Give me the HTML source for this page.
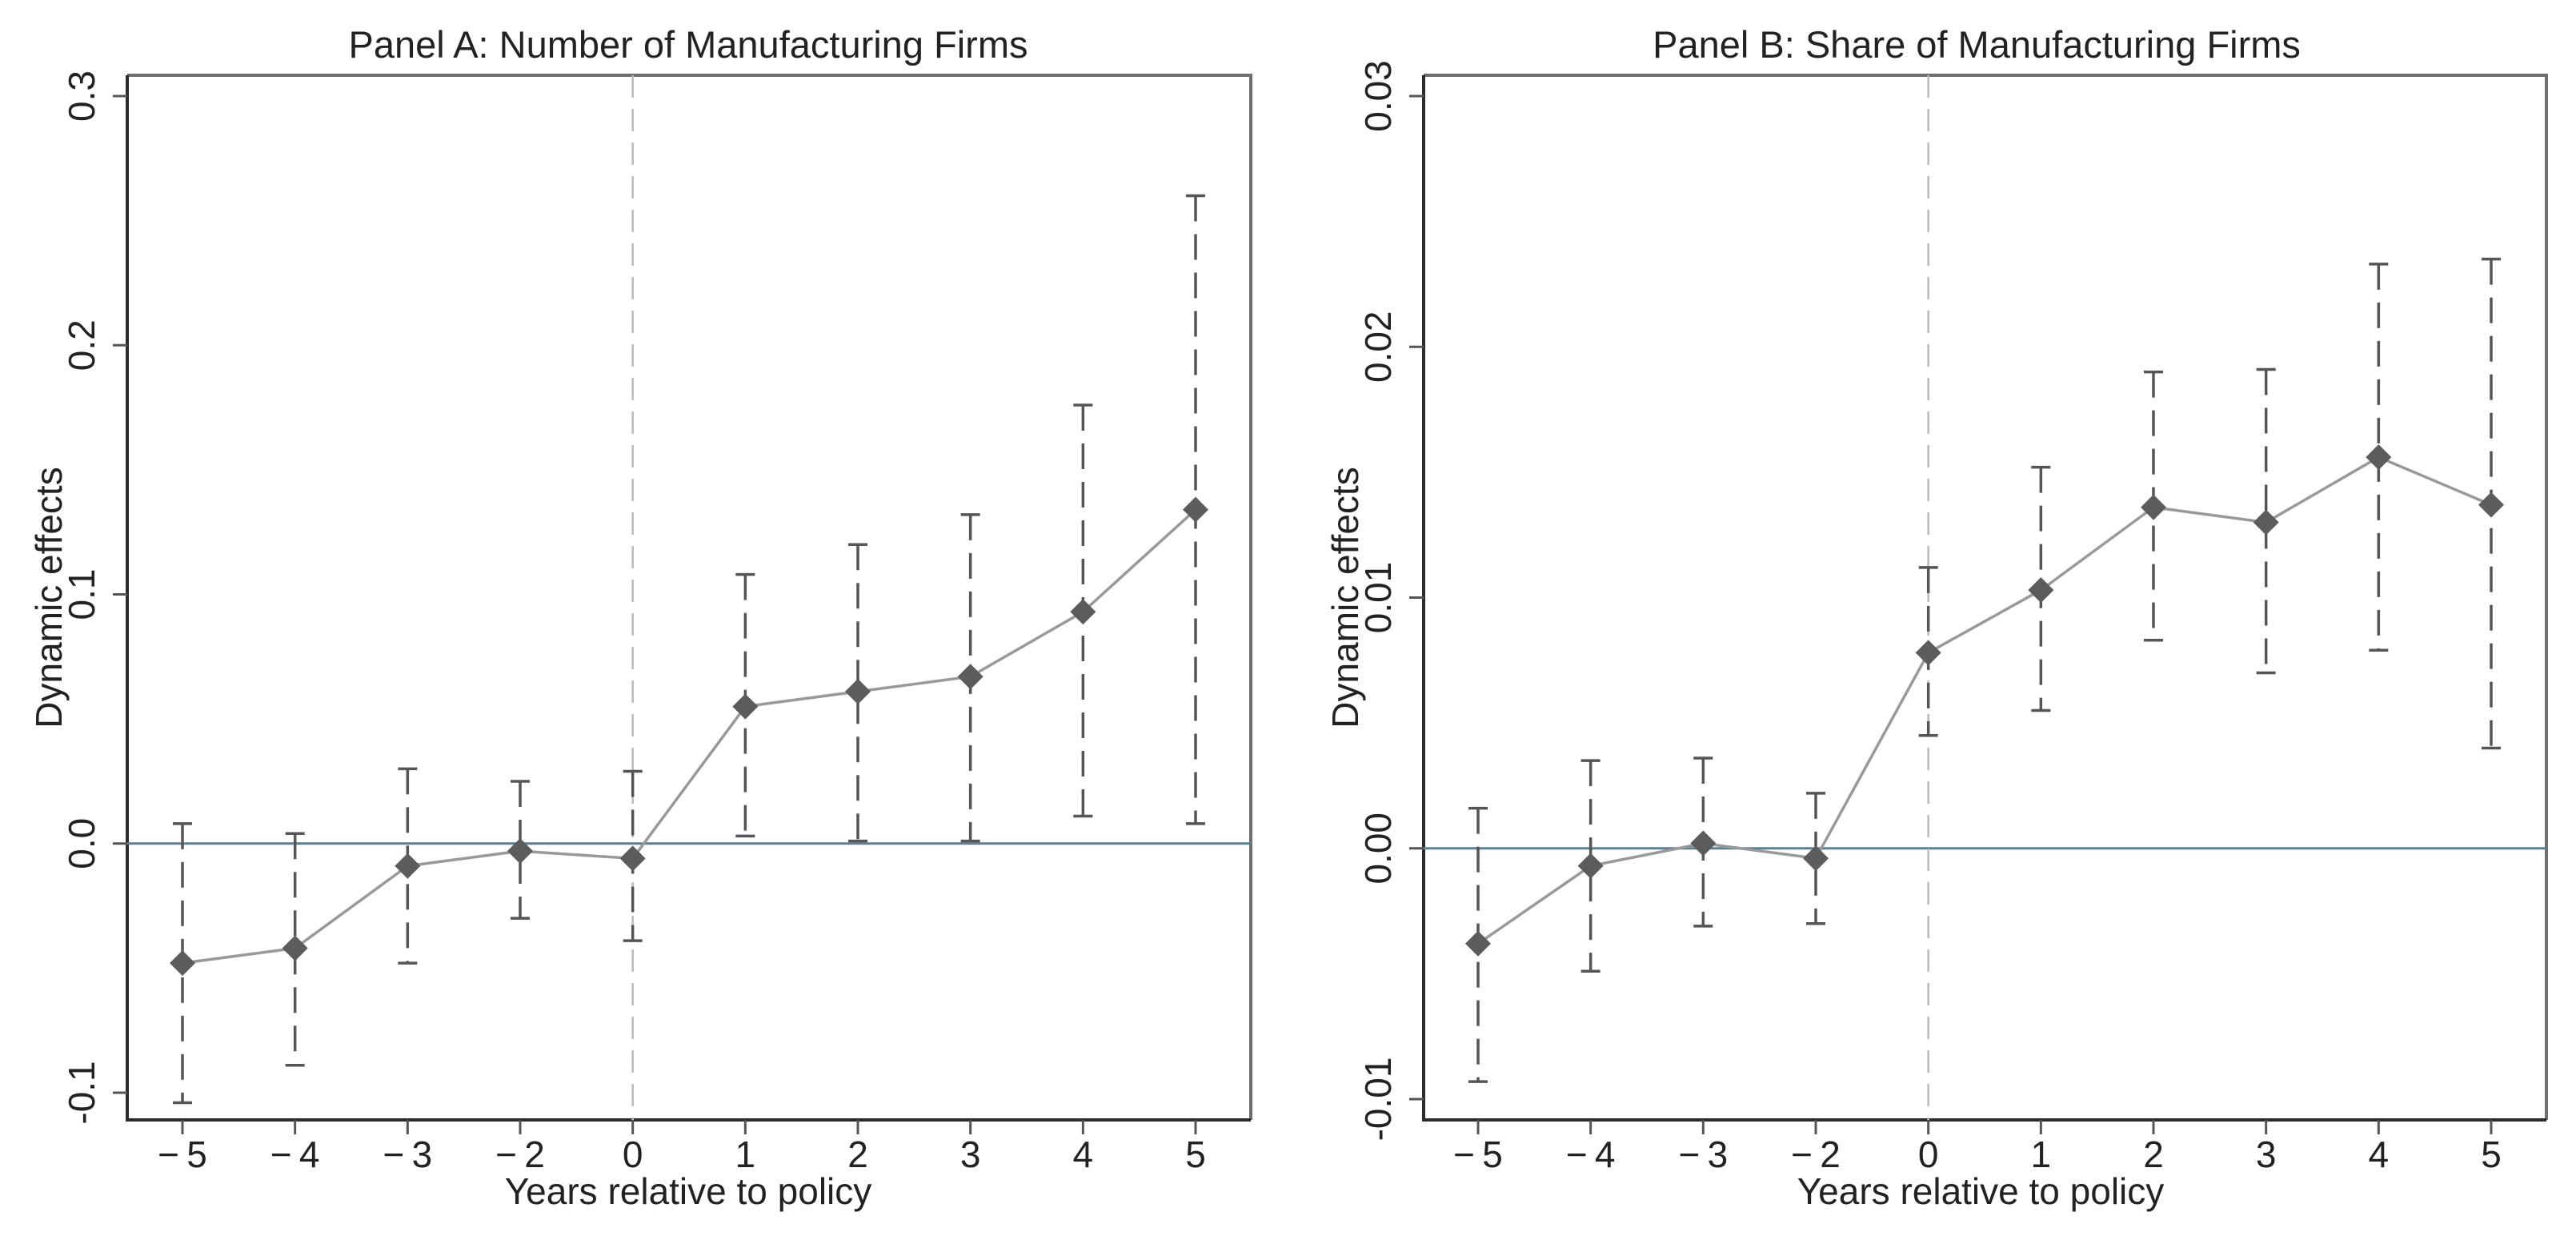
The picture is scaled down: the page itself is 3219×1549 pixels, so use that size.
<!DOCTYPE html>
<html><head><meta charset="utf-8"><style>
html,body{margin:0;padding:0;background:#fff;}
svg{display:block;font-family:"Liberation Sans",Arial,sans-serif;}
</style></head><body>
<svg id="chart" width="3219" height="1549" viewBox="0 0 3219 1549" xmlns="http://www.w3.org/2000/svg">
<rect width="3219" height="1549" fill="#fff"/>
</svg>
<script>
const categories = ["\u22125","\u22124","\u22123","\u22122","0","1","2","3","4","5"];
const aEst = [-0.048,-0.042,-0.009,-0.003,-0.006,0.055,0.061,0.067,0.093,0.134];
const aLo  = [-0.104,-0.089,-0.048,-0.030,-0.039,0.003,0.001,0.001,0.011,0.008];
const aHi  = [0.008,0.004,0.030,0.025,0.029,0.108,0.120,0.132,0.176,0.260];
const aTicks = [-0.1,0.0,0.1,0.2,0.3];
const aTickLabels = ["-0.1","0.0","0.1","0.2","0.3"];
const bEst = [-0.0038,-0.0007,0.0002,-0.0004,0.0078,0.0103,0.0136,0.0130,0.0156,0.0137];
const bLo  = [-0.0093,-0.0049,-0.0031,-0.0030,0.0045,0.0055,0.0083,0.0070,0.0079,0.0040];
const bHi  = [0.0016,0.0035,0.0036,0.0022,0.0112,0.0152,0.0190,0.0191,0.0233,0.0235];
const bTicks = [-0.01,0.0,0.01,0.02,0.03];
const bTickLabels = ["-0.01","0.00","0.01","0.02","0.03"];

const NS="http://www.w3.org/2000/svg";
const svg=document.getElementById('chart');
function mk(tag,attrs,parent){const e=document.createElementNS(NS,tag);for(const k in attrs)e.setAttribute(k,attrs[k]);(parent||svg).appendChild(e);return e;}

function panel(cfg){
  const g=mk('g',{});
  
  
  const xs=i=>cfg.x0+(cfg.x1-cfg.x0)*i/(categories.length-1);
  const ys=v=>cfg.yTop+(cfg.yBot-cfg.yTop)*(cfg.vTop-v)/(cfg.vTop-cfg.vBot);
  // frame: top/right lighter, left/bottom darker
  const fr=mk('path',{d:`M${cfg.L},${cfg.T} H${cfg.R} V${cfg.B}`,fill:'none',stroke:'#6e6e6e',"stroke-width":4},g);
  
  
  const fl=mk('path',{d:`M${cfg.L},${cfg.T} V${cfg.B} H${cfg.R}`,fill:'none',stroke:'#2b2b2b',"stroke-width":4},g);
  
  
  // zero line
  const z=mk('line',{x1:cfg.L,x2:cfg.R,y1:ys(0),y2:ys(0),stroke:'#5f7f8f',"stroke-width":3},g);
  
  
  // vertical policy line
  const v=mk('line',{x1:xs(4),x2:xs(4),y1:cfg.T,y2:cfg.B,stroke:'#b4bcc0',"stroke-width":2.5,"stroke-dasharray":"28 14"},g);
  
  
  // title
  const t=mk('text',{x:cfg.titleX,y:72,"text-anchor":"middle","font-size":47,fill:'#222'},g);
  t.textContent=cfg.title;
  
  
  // y ticks
  cfg.ticks.forEach((tv,i)=>{
    const y=ys(tv);
    const tk=mk('line',{x1:cfg.L-18,x2:cfg.L,y1:y,y2:y,stroke:'#555',"stroke-width":3},g);
    
    
    const tl=mk('text',{x:0,y:0,transform:`translate(${cfg.L-41},${y}) rotate(-90)`,"text-anchor":"middle","font-size":46,fill:'#222'},g);
    tl.textContent=cfg.tickLabels[i];
    
    
  });
  const yt=mk('text',{x:0,y:0,transform:`translate(${cfg.L-82},${(cfg.T+cfg.B)/2}) rotate(-90)`,"text-anchor":"middle","font-size":46,fill:'#222'},g);
  yt.textContent='Dynamic effects';
  
  
  // x ticks
  categories.forEach((c,i)=>{
    const x=xs(i);
    const tk=mk('line',{x1:x,x2:x,y1:cfg.B,y2:cfg.B+18,stroke:'#555',"stroke-width":3},g);
    
    
    const tl=mk('text',{x:x,y:cfg.B+59,"text-anchor":"middle","font-size":46,fill:'#222'},g);
    tl.textContent=c.length>1?c.replace('\u2212','\u2212\u2009'):c;
    
    
  });
  const xt=mk('text',{x:cfg.xTitleX,y:1504,"text-anchor":"middle","font-size":46,fill:'#222'},g);
  xt.textContent='Years relative to policy';
  
  
  // error bars
  cfg.est.forEach((e,i)=>{
    const x=xs(i);
    const eb=mk('line',{x1:x,x2:x,y1:ys(cfg.hi[i]),y2:ys(cfg.lo[i]),stroke:'#555',"stroke-width":3.5,"stroke-dasharray":"32 16"},g);
    
    
    [cfg.hi[i],cfg.lo[i]].forEach(val=>{
      const cap=mk('line',{x1:x-12,x2:x+12,y1:ys(val),y2:ys(val),stroke:'#555',"stroke-width":3.5},g);
      
      
    });
  });
  // connecting line
  const pts=cfg.est.map((e,i)=>xs(i)+','+ys(e)).join(' ');
  const pl=mk('polyline',{points:pts,fill:'none',stroke:'#999',"stroke-width":3.5},g);
  
  
  cfg.est.forEach((e,i)=>{
    const x=xs(i),y=ys(e),r=16;
    const d=mk('polygon',{points:`${x},${y-r} ${x+r},${y} ${x},${y+r} ${x-r},${y}`,fill:'#5c5c5c'},g);
    
    
  });
}
panel({name:'panel-a',title:'Panel A: Number of Manufacturing Firms',titleX:860,xTitleX:860,L:159,R:1563,T:94,B:1399,x0:228,x1:1494,yTop:120,yBot:1365,vTop:0.3,vBot:-0.1,ticks:aTicks,tickLabels:aTickLabels,est:aEst,lo:aLo,hi:aHi});
panel({name:'panel-b',title:'Panel B: Share of Manufacturing Firms',titleX:2470,xTitleX:2475,L:1779,R:3182,T:94,B:1399,x0:1847,x1:3113,yTop:120,yBot:1373,vTop:0.03,vBot:-0.01,ticks:bTicks,tickLabels:bTickLabels,est:bEst,lo:bLo,hi:bHi});
</script>
</body></html>
